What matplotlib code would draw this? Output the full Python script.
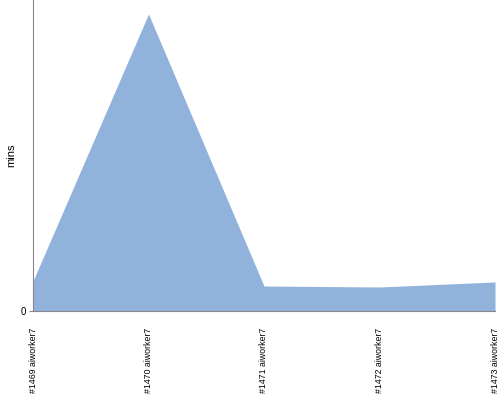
import matplotlib
matplotlib.use("Agg")
import matplotlib.pyplot as plt

categories = ["#1469 aiworker7", "#1470 aiworker7", "#1471 aiworker7", "#1472 aiworker7", "#1473 aiworker7"]
values = [30, 297, 25, 24, 29]
y_max = 311

fig = plt.figure(figsize=(5, 4), dpi=100)
ax = fig.add_axes([0.066, 0.2225, 0.924, 0.7775])
x = list(range(len(categories)))
ax.fill_between(x, 0, values, color="#90b2db", linewidth=0)
ax.set_xlim(0, len(categories) - 1)
ax.set_ylim(0, y_max)
ax.set_xticks(x)
ax.set_xticklabels(categories, rotation=90, fontsize=6.3, va="top",
                   family="Liberation Sans")
ax.set_yticks([0])
ax.set_yticklabels(["0"], fontsize=7, family="Liberation Sans")
ax.tick_params(axis="y", length=3, color="#888888", pad=2)
ax.tick_params(axis="x", length=0, pad=12)
for s in ["top", "right"]:
    ax.spines[s].set_visible(False)
for s in ["left", "bottom"]:
    ax.spines[s].set_color("#888888")
    ax.spines[s].set_linewidth(0.8)
ax.set_ylabel("mins", fontsize=8, family="Liberation Sans")
ax.yaxis.set_label_coords(-0.036, 0.5)
fig.savefig("out.png", dpi=100)
